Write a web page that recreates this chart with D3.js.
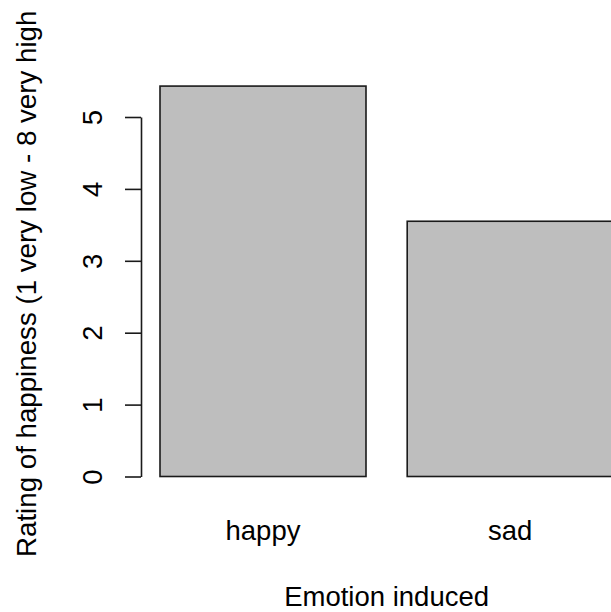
<!DOCTYPE html>
<html>
<head>
<meta charset="utf-8">
<script src="https://cdn.jsdelivr.net/npm/d3@7"></script>
<style>
  html, body { margin: 0; padding: 0; background: #fff; }
  svg { display: block; }
</style>
</head>
<body>
<div id="chart"></div>
<script>
// ---- data
const emotions = ['happy', 'sad'];
const ratings = [5.43, 3.55];
const yTicks = [0, 1, 2, 3, 4, 5];
const xTitle = 'Emotion induced';
const yTitle = 'Rating of happiness (1 very low - 8 very high';

(function () {
  const width = 611, height = 612;
  const font = '"Liberation Sans", Arial, sans-serif';
  const fs = 27.5;
  const ink = '#1a1a1a';

  const svg = d3.select('#chart').append('svg')
    .attr('width', width).attr('height', height)
    .style('font-family', font);

  // bars: width 1, space 0.2 (R barplot default) -> step 1.2
  const x = d3.scaleBand()
    .domain(emotions)
    .range([160, 160 + 2 * 247.2 - 41.2])
    .paddingInner(1 / 6)
    .paddingOuter(0);

  const y = d3.scaleLinear()
    .domain([0, 5])
    .range([476.5, 117]);

  // ---- bars
  svg.append('g')
    .selectAll('rect')
    .data(emotions.map((e, i) => ({ e, v: ratings[i] })))
    .join('rect')
    .attr('x', d => x(d.e))
    .attr('y', d => y(d.v))
    .attr('width', x.bandwidth())
    .attr('height', d => y(0) - y(d.v))
    .attr('fill', '#bebebe')
    .attr('stroke', ink)
    .attr('stroke-width', 1.6);

  // ---- y axis
  const axisX = 141;
  svg.append('g')
    .attr('transform', `translate(${axisX},0)`)
    .call(d3.axisLeft(y).tickValues(yTicks).tickSize(16).tickSizeOuter(0).tickFormat(d3.format('d')))
    .call(g => g.select('.domain').attr('stroke', ink).attr('stroke-width', 1.6))
    .call(g => g.selectAll('.tick line').attr('stroke', ink).attr('stroke-width', 1.6))
    .call(g => g.selectAll('.tick text')
      .attr('x', null).attr('dy', null)
      .attr('text-anchor', 'middle')
      .attr('transform', `translate(${102 - axisX},0) rotate(-90)`)
      .attr('fill', '#000')
      .style('font-family', font)
      .style('font-size', fs + 'px'));

  // ---- category labels (no x axis line, as in R barplot)
  svg.append('g')
    .selectAll('text')
    .data(emotions)
    .join('text')
    .attr('x', d => x(d) + x.bandwidth() / 2)
    .attr('y', 540)
    .attr('text-anchor', 'middle')
    .attr('font-size', fs)
    .attr('fill', '#000')
    .text(d => d);

  // ---- axis titles
  svg.append('text')
    .attr('x', x(emotions[0]) + (x.step() * 2 - x.step() * x.paddingInner()) / 2)
    .attr('y', 606)
    .attr('text-anchor', 'middle')
    .attr('font-size', fs)
    .attr('fill', '#000')
    .text(xTitle);

  // y title runs off the top of the figure, starting low on the left margin
  svg.append('text')
    .attr('transform', `translate(36,557) rotate(-90)`)
    .attr('text-anchor', 'start')
    .attr('font-size', 27.7)
    .attr('fill', '#000')
    .text(yTitle);
})();
</script>
</body>
</html>
